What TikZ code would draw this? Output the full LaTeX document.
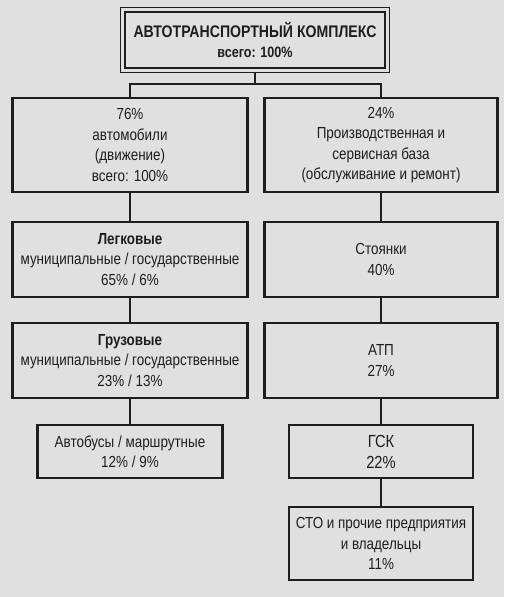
\documentclass[tikz,border=0pt]{standalone}
\usepackage{fontspec}
\setmainfont{Liberation Sans}[FakeStretch=0.84]
\usetikzlibrary{calc}
\definecolor{bgc}{HTML}{E0E0E0}
\definecolor{ink}{HTML}{1E1E1E}
\tikzset{
  box/.style={draw=ink, line width=2.4pt, text=ink, align=center, inner sep=0pt,
    font=\fontsize{16}{20.5}\selectfont},
  conn/.style={draw=ink, line width=1.6pt},
}
\begin{document}
\begin{tikzpicture}[x=1pt,y=-1pt]
\fill[bgc] (0,0) rectangle (504,597);
\useasboundingbox (0,0) rectangle (504,597);
% top
\node[box, minimum width=260, minimum height=56] (top) at (255,40)
  {{\fontsize{16.8}{21}\selectfont\bfseries АВТОТРАНСПОРТНЫЙ КОМПЛЕКС}\\[0pt]
   {\fontsize{15}{17}\selectfont\bfseries всего: 100\%}};
\draw[draw=ink, line width=1pt] ($(top.north west)+(-3,-3)$) rectangle ($(top.south east)+(3,3)$);
% row 1
\node[box, minimum width=235, minimum height=94] (l1) at (130,145)
  {76\%\\автомобили\\(движение)\\всего: 100\%};
\node[box, minimum width=233, minimum height=94] (r1) at (381,145)
  {24\%\\Производственная и\\сервисная база\\(обслуживание и ремонт)};
% row 2
\node[box, minimum width=235, minimum height=75] (l2) at (130,259.5)
  {\textbf{Легковые}\\муниципальные / государственные\\65\% / 6\%};
\node[box, minimum width=233, minimum height=75] (r2) at (381,259.5)
  {Стоянки\\40\%};
% row 3
\node[box, minimum width=235, minimum height=75] (l3) at (130,360.5)
  {\textbf{Грузовые}\\муниципальные / государственные\\23\% / 13\%};
\node[box, minimum width=233, minimum height=75] (r3) at (381,360.5)
  {АТП\\27\%};
% row 4
\node[box, minimum width=185, minimum height=53] (l4) at (130,451.5)
  {Автобусы / маршрутные\\12\% / 9\%};
\node[box, minimum width=184, minimum height=53, font=\fontsize{17.5}{21}\selectfont] (r4) at (381,451.5)
  {ГСК\\22\%};
% row 5
\node[box, minimum width=184, minimum height=73] (r5) at (381,543.5)
  {СТО и прочие предприятия\\и владельцы\\11\%};
% connectors
\coordinate (j) at (255,84);
\draw[conn] ($(top.south)+(0,3)$) -- (j);
\draw[conn] (l1.north) |- (j) -| (r1.north);
\draw[conn] (l1) -- (l2);
\draw[conn] (l2) -- (l3);
\draw[conn] (l3) -- (l4);
\draw[conn] (r1) -- (r2);
\draw[conn] (r2) -- (r3);
\draw[conn] (r3) -- (r4);
\draw[conn] (r4) -- (r5);
\end{tikzpicture}
\end{document}
